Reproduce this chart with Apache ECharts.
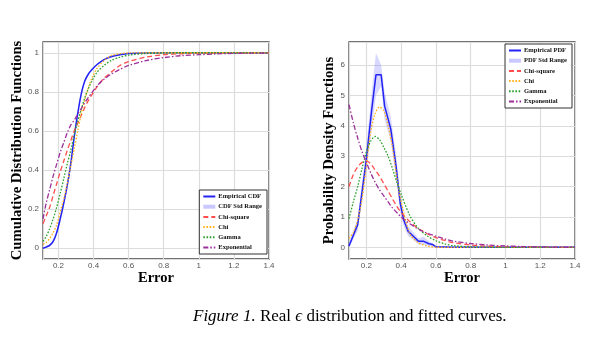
<!DOCTYPE html>
<html><head><meta charset="utf-8">
<script src="https://cdn.jsdelivr.net/npm/echarts@6/dist/echarts.min.js"></script>
<style>html,body{margin:0;padding:0;background:#fff}#c{width:599px;height:355px}</style>
</head><body><div id="c"></div>
<script>
// ---------- CDF panel data ----------
const cdfX = [0.112,0.13,0.15,0.17,0.19,0.21,0.23,0.25,0.27,0.29,0.31,0.33,0.35,0.37,0.39,0.42,0.46,0.5,0.55,0.6,0.7,0.8,0.9,1.0,1.1,1.2,1.3,1.4];
const cdfEmp   = [0,0.006,0.015,0.035,0.08,0.15,0.23,0.32,0.43,0.57,0.69,0.79,0.855,0.89,0.913,0.94,0.965,0.98,0.99,0.996,0.999,1,1,1,1,1,1,1];
const cdfStdHi = [0.005,0.012,0.022,0.045,0.095,0.17,0.25,0.34,0.45,0.59,0.70,0.80,0.862,0.895,0.917,0.944,0.968,0.982,0.992,0.997,1,1,1,1,1,1,1,1];
const cdfStdLo = [0,0.002,0.009,0.026,0.066,0.13,0.21,0.30,0.41,0.55,0.67,0.78,0.848,0.885,0.909,0.936,0.962,0.978,0.988,0.995,0.998,1,1,1,1,1,1,1];
const cdfChiSq = [0.125,0.165,0.21,0.27,0.33,0.39,0.445,0.50,0.55,0.60,0.64,0.68,0.72,0.755,0.785,0.825,0.87,0.90,0.935,0.955,0.978,0.99,0.995,0.998,0.999,1,1,1];
const cdfChi   = [0.02,0.03,0.05,0.08,0.12,0.185,0.25,0.33,0.42,0.51,0.60,0.69,0.76,0.82,0.87,0.92,0.96,0.985,0.995,0.999,1,1,1,1,1,1,1,1];
const cdfGamma = [0.035,0.06,0.10,0.15,0.21,0.28,0.355,0.43,0.50,0.58,0.65,0.71,0.77,0.815,0.855,0.90,0.935,0.96,0.977,0.988,0.996,0.999,1,1,1,1,1,1];
const cdfExpo  = [0.15,0.23,0.30,0.37,0.43,0.49,0.54,0.59,0.63,0.655,0.685,0.715,0.745,0.77,0.795,0.83,0.865,0.89,0.915,0.935,0.96,0.975,0.985,0.99,0.994,0.997,0.998,0.999];

// ---------- PDF panel data ----------
const pdfEmpX  = [0.1,0.15,0.2,0.23,0.255,0.285,0.305,0.34,0.37,0.395,0.415,0.44,0.47,0.5,0.53,0.56,0.58,0.6,0.7,0.8,0.9,1.0,1.1,1.2,1.3,1.4];
const pdfEmp   = [0.05,0.75,2.9,4.5,5.68,5.68,4.65,3.9,2.7,1.45,0.9,0.53,0.37,0.2,0.2,0.12,0.1,0.02,0.01,0.01,0.01,0.01,0.01,0.01,0.01,0.01];
const pdfStdHi = [0.15,0.95,3.3,5.1,6.4,6.0,5.1,4.3,3.1,1.75,1.1,0.7,0.5,0.3,0.35,0.2,0.15,0.05,0.03,0.03,0.03,0.03,0.03,0.03,0.03,0.03];
const pdfStdLo = [0,0.55,2.5,3.9,5.0,5.3,4.2,3.5,2.3,1.15,0.7,0.38,0.25,0.1,0.08,0.05,0.04,0,0,0,0,0,0,0,0,0];
const pdfX     = [0.1,0.125,0.15,0.175,0.2,0.225,0.25,0.275,0.3,0.325,0.35,0.375,0.4,0.45,0.5,0.55,0.6,0.65,0.7,0.8,0.9,1.0,1.1,1.2,1.3,1.4];
const pdfChiSq = [2.0,2.4,2.65,2.8,2.85,2.75,2.55,2.35,2.1,1.85,1.6,1.35,1.15,0.85,0.62,0.45,0.32,0.23,0.16,0.08,0.04,0.02,0.01,0.005,0.002,0.001];
const pdfChi   = [0.3,0.5,0.9,1.6,2.7,3.8,4.4,4.62,4.5,4.0,3.3,2.3,1.5,0.45,0.15,0.05,0.01,0,0,0,0,0,0,0,0,0];
const pdfGamma = [0.95,1.5,2.0,2.6,3.15,3.5,3.65,3.55,3.3,3.0,2.6,2.15,1.75,1.05,0.62,0.38,0.22,0.12,0.06,0.02,0.01,0,0,0,0,0];
const pdfExpo  = [4.7,4.1,3.6,3.15,2.8,2.45,2.15,1.9,1.7,1.5,1.3,1.15,1.0,0.78,0.6,0.47,0.37,0.28,0.21,0.13,0.08,0.05,0.03,0.02,0.01,0.006];

const COL = {emp:'#2323f5', band:'rgba(110,110,255,0.28)', bandLegend:'#c9c9ff', chisq:'#ff4d4d', chi:'#ffb31a', gamma:'#2ca02c', expo:'#9b2f9b'};
const SERIF = '"Liberation Serif","DejaVu Serif",serif';
const SANS = '"Liberation Sans",Arial,sans-serif';

const pairs = (xs, ys) => xs.map((x,i)=>[x, ys[i]]);

function lineS(name, xs, ys, color, type, width, idx, smooth){
  return {name, type:'line', xAxisIndex:idx, yAxisIndex:idx, data:pairs(xs,ys), showSymbol:false, symbol:'none',
    smooth: smooth, lineStyle:{color, type, width}, itemStyle:{color}, z: 3};
}
// std band drawn as one polygon through the axes' own coordinate mapping
function bandS(name, xs, lo, hi, idx, smooth){
  return {
    name, type:'custom', xAxisIndex:idx, yAxisIndex:idx, coordinateSystem:'cartesian2d',
    data: pairs(xs, hi), encode:{x:0, y:1}, itemStyle:{color:COL.bandLegend}, z:1, silent:true,
    renderItem: function(params, api){
      if (params.dataIndex !== 0) return null;
      const pts = [];
      for (let i=0;i<xs.length;i++) pts.push(api.coord([xs[i], hi[i]]));
      for (let i=xs.length-1;i>=0;i--) pts.push(api.coord([xs[i], lo[i]]));
      return {type:'polygon', shape:{points:pts, smooth:smooth}, style:{fill:COL.band, stroke:null}};
    }
  };
}

const dashD = [5,3], dotD = [1.6,1.6], dashDot = [5,2,1.5,2];

const axisCommonX = (min) => ({
  type:'value', min, max:1.4, minInterval:0.2, maxInterval:0.2,
  axisLine:{show:false}, axisTick:{show:false},
  splitLine:{show:true, lineStyle:{color:'#dcdcdc', width:1.2}},
  axisLabel:{color:'#555', fontSize:8, fontFamily:SANS, margin:3, showMinLabel:false, showMaxLabel:true},
  name:'Error', nameLocation:'middle', nameGap:12, nameMoveOverlap:false,
  nameTextStyle:{fontFamily:SERIF, fontWeight:'bold', fontSize:14.5, color:'#000', verticalAlign:'top'}
});
const axisCommonY = (min, max, step, name, gap) => ({
  type:'value', min, max, minInterval:step, maxInterval:step,
  axisLine:{show:false}, axisTick:{show:false},
  splitLine:{show:true, lineStyle:{color:'#dcdcdc', width:1.2}},
  axisLabel:{color:'#555', fontSize:8, fontFamily:SANS, margin:4, showMinLabel:false, showMaxLabel:false},
  name, nameLocation:'middle', nameGap:gap, nameMoveOverlap:false,
  nameTextStyle:{fontFamily:SERIF, fontWeight:'bold', fontSize:14.7, color:'#000'}
});

const legendCommon = {
  orient:'vertical', backgroundColor:'#fff', borderColor:'#333', borderWidth:1,
  padding:[3,5,3,3], itemWidth:12, itemHeight:5, itemGap:3.2,
  itemStyle:{opacity:0},
  textStyle:{fontFamily:SERIF, fontWeight:'bold', fontSize:6.5, color:'#111', padding:[0,0,0,-2]},
  selectedMode:false
};
const bandIcon = 'path://M0,0L12,0L12,4L0,4Z';

const option = {
  animation:false,
  backgroundColor:'#fff',
  grid:[
    {left:43, top:42, width:226, height:217, show:true, borderColor:'#444', borderWidth:1.3, backgroundColor:'#fff'},
    {left:349, top:42, width:226, height:217, show:true, borderColor:'#444', borderWidth:1.3, backgroundColor:'#fff'}
  ],
  xAxis:[ Object.assign(axisCommonX(0.112), {gridIndex:0}), Object.assign(axisCommonX(0.1), {gridIndex:1}) ],
  yAxis:[
    Object.assign(axisCommonY(-0.055, 1.055, 0.2, 'Cumulative Distribution Functions', 18), {gridIndex:0}),
    Object.assign(axisCommonY(-0.38, 6.76, 1, 'Probability Density Functions', 12), {gridIndex:1})
  ],
  legend:[
    Object.assign({}, legendCommon, {right:332, bottom:101,
      data:['Empirical CDF', {name:'CDF Std Range', icon:bandIcon, itemStyle:{opacity:1, color:COL.bandLegend}}, 'Chi-square','Chi','Gamma','Exponential']}),
    Object.assign({}, legendCommon, {right:27, top:44,
      data:['Empirical PDF', {name:'PDF Std Range', icon:bandIcon, itemStyle:{opacity:1, color:COL.bandLegend}}, 'Chi-square','Chi','Gamma','Exponential']})
  ],
  graphic:[{
    type:'text', left:193, top:308,
    style:{
      text:'{i|Figure 1.} Real {e|ϵ} distribution and fitted curves.',
      fontFamily:SERIF, fontSize:17, fill:'#000',
      rich:{ i:{fontFamily:SERIF, fontSize:17, fontStyle:'italic', fill:'#000'},
             e:{fontFamily:SERIF, fontSize:17, fontStyle:'italic', fill:'#000'} }
    }
  }],
  series:[
    bandS('CDF Std Range', cdfX, cdfStdLo, cdfStdHi, 0, 0.3),
    lineS('Empirical CDF', cdfX, cdfEmp, COL.emp, 'solid', 1.5, 0, 0.3),
    lineS('Chi-square', cdfX, cdfChiSq, COL.chisq, dashD, 1.3, 0, 0.3),
    lineS('Chi', cdfX, cdfChi, COL.chi, dotD, 1.3, 0, 0.3),
    lineS('Gamma', cdfX, cdfGamma, COL.gamma, dotD, 1.3, 0, 0.3),
    lineS('Exponential', cdfX, cdfExpo, COL.expo, dashDot, 1.3, 0, 0.3),
    bandS('PDF Std Range', pdfEmpX, pdfStdLo, pdfStdHi, 1, 0),
    lineS('Empirical PDF', pdfEmpX, pdfEmp, COL.emp, 'solid', 1.5, 1, false),
    lineS('Chi-square', pdfX, pdfChiSq, COL.chisq, dashD, 1.3, 1, 0.3),
    lineS('Chi', pdfX, pdfChi, COL.chi, dotD, 1.3, 1, 0.3),
    lineS('Gamma', pdfX, pdfGamma, COL.gamma, dotD, 1.3, 1, 0.3),
    lineS('Exponential', pdfX, pdfExpo, COL.expo, dashDot, 1.3, 1, 0.3)
  ]
};
const chart = echarts.init(document.getElementById('c'), null, {renderer:'canvas'});
chart.setOption(option);
</script>
</body></html>
